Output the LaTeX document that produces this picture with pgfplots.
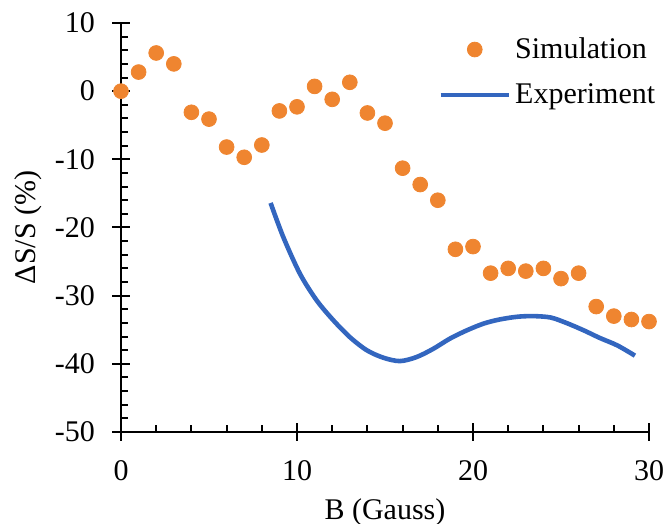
\documentclass[border=0pt]{standalone}
\usepackage{pgfplots}
\pgfplotsset{compat=1.18}
\usepackage{fontspec}
\setmainfont{Liberation Serif}
\definecolor{simorange}{HTML}{EF8530}
\definecolor{expblue}{HTML}{3366BF}
\pgfplotsset{
  dot legend/.style={legend image code/.code={\draw[##1] plot coordinates {(0.6cm,0cm)};}},
  long line legend/.style={legend image code/.code={\draw[##1] (0cm,0cm) -- (1.2cm,0cm);}},
}
\begin{document}
\begin{tikzpicture}
\begin{axis}[
  name=ax,
  scale only axis,
  width=264pt, height=204.5pt,
  xmin=0, xmax=30, ymin=-50, ymax=10,
  axis x line=bottom, axis y line=left,
  axis line style={-, line width=0.9pt},
  xtick={0,10,20,30}, ytick={-50,-40,-30,-20,-10,0,10},
  tick align=center,
  major tick length=9pt,
  tick style={black, line width=1pt},
  extra x ticks={2,4,6,8,12,14,16,18,22,24,26,28},
  extra y ticks={-48,-46,-44,-42,-38,-36,-34,-32,-28,-26,-24,-22,-18,-16,-14,-12,-8,-6,-4,-2,2,4,6,8},
  extra x tick labels={}, extra y tick labels={},
  extra tick style={tick align=inside, major tick length=3.5pt},
  /pgf/number format/assume math mode=true,
  tick label style={font=\fontsize{15}{18}\selectfont},
  yticklabel style={xshift=-5pt},
  xticklabel style={yshift=-6pt},
  label style={font=\fontsize{15}{18}\selectfont},
  xlabel={B (Gauss)}, ylabel={ΔS/S (\%)},
  xlabel style={yshift=2pt},
  ylabel shift=-5pt,
  clip=false,
  legend style={draw=none, fill=none, at={(1.02,0.975)}, anchor=north east,
    font=\fontsize{15}{18}\selectfont, row sep=7pt,
    inner sep=0pt},
  legend cell align=left,
]
\addplot[only marks, mark=*, mark size=3.7pt, color=simorange, dot legend]
  coordinates {
  (0,0) (1,2.8) (2,5.6) (3,4.0) (4,-3.1) (5,-4.1) (6,-8.2) (7,-9.7)
  (8,-7.9) (9,-2.9) (10,-2.3) (11,0.7) (12,-1.2) (13,1.3) (14,-3.2)
  (15,-4.7) (16,-11.3) (17,-13.7) (18,-16.0) (19,-23.2) (20,-22.8)
  (21,-26.7) (22,-26.0) (23,-26.4) (24,-26.0) (25,-27.5) (26,-26.7)
  (27,-31.6) (28,-33.0) (29,-33.5) (30,-33.8)
  };
\addlegendentry{Simulation}
\addplot[smooth, color=expblue, line width=2.3pt, no marks, long line legend]
  coordinates {
  (8.5,-16.4) (9.22,-21.4) (10.17,-26.8) (11.12,-30.7) (12.06,-33.6)
  (13.01,-36.1) (13.96,-38.0) (14.9,-39.1) (15.85,-39.6) (16.8,-39.0)
  (17.74,-37.8) (18.69,-36.3) (19.64,-35.1) (20.6,-34.1) (21.5,-33.5)
  (22.5,-33.1) (23.4,-33.0) (24.4,-33.2) (25.3,-34.0) (26.3,-35.1)
  (27.2,-36.2) (28.2,-37.3) (29.2,-38.8)
  };
\addlegendentry{Experiment}
\end{axis}
\pgfresetboundingbox
\path ([shift={(-60.5pt,-46pt)}]ax.south west) rectangle ([shift={(8.5pt,11.5pt)}]ax.north east);
\end{tikzpicture}
\end{document}
